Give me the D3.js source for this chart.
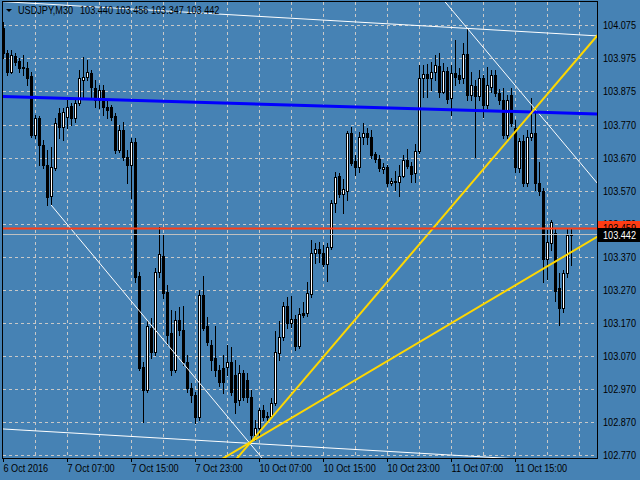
<!DOCTYPE html>
<html><head><meta charset="utf-8">
<script src="https://cdn.jsdelivr.net/npm/d3@7"></script>
<style>
html,body{margin:0;padding:0;background:#4682B4;overflow:hidden}
text{font-family:"Liberation Sans",Arial,sans-serif;font-size:11px}
</style></head><body>
<svg id="c" width="640" height="480"></svg>
<script>
const symbol = "USDJPY,M30";
const open = [104.066,103.990,103.932,103.981,103.966,103.948,103.945,103.920,103.741,103.793,
103.711,103.650,103.556,103.641,103.808,103.766,103.796,103.829,103.793,103.838,
103.908,103.917,103.929,103.884,103.847,103.878,103.826,103.826,103.799,103.696,
103.756,103.675,103.650,103.720,103.313,103.037,102.967,103.156,103.083,103.326,
103.374,103.265,103.140,103.028,103.180,103.150,103.052,102.973,102.952,102.885,
103.256,103.162,103.104,103.065,103.028,103.034,103.037,103.052,103.013,102.937,
103.019,102.998,102.946,102.831,102.852,102.907,102.885,102.888,102.928,103.080,
103.128,103.222,103.171,103.183,103.101,103.201,103.201,103.259,103.383,103.395,
103.383,103.350,103.401,103.535,103.617,103.562,103.571,103.747,103.662,103.644,
103.735,103.747,103.735,103.684,103.668,103.638,103.644,103.596,103.602,103.599,
103.617,103.665,103.647,103.626,103.693,103.914,103.926,103.914,103.932,103.951,
103.872,103.936,103.854,103.929,103.923,103.914,103.987,103.863,103.890,103.860,
103.914,103.832,103.887,103.923,103.869,103.847,103.741,103.863,103.763,103.641,
103.723,103.596,103.735,103.747,103.596,103.571,103.365,103.414,103.444,103.277,
103.216,103.322,103.440];
const high = [104.084,103.999,103.999,103.990,103.975,103.984,103.963,103.932,103.802,103.799,
103.726,103.696,103.705,103.793,103.823,103.823,103.847,103.838,103.847,103.939,
103.978,103.969,103.939,103.908,103.893,103.893,103.847,103.832,103.808,103.772,
103.781,103.696,103.732,103.732,103.326,103.052,103.180,103.186,103.338,103.462,
103.438,103.286,103.210,103.207,103.219,103.222,103.074,102.989,102.961,103.271,
103.313,103.189,103.119,103.162,103.043,103.074,103.104,103.098,103.058,103.043,
103.028,103.019,102.967,102.876,102.913,102.922,102.901,102.943,103.147,103.177,
103.235,103.250,103.253,103.195,103.216,103.235,103.295,103.423,103.414,103.417,
103.407,103.414,103.544,103.629,103.626,103.608,103.753,103.766,103.681,103.750,
103.778,103.763,103.756,103.690,103.681,103.656,103.650,103.611,103.632,103.650,
103.681,103.699,103.659,103.714,103.954,103.954,103.957,103.963,103.984,103.990,
103.960,103.948,103.954,104.030,103.945,104.020,104.066,103.932,103.908,103.939,
103.923,103.948,103.939,103.939,103.881,103.884,103.863,103.884,103.787,103.732,
103.741,103.756,103.854,103.811,103.659,103.580,103.453,103.483,103.459,103.322,
103.332,103.459,103.456];
const low = [103.975,103.923,103.929,103.954,103.932,103.923,103.893,103.735,103.732,103.650,
103.641,103.529,103.529,103.635,103.732,103.726,103.763,103.772,103.781,103.832,
103.857,103.908,103.857,103.826,103.823,103.802,103.793,103.787,103.687,103.690,
103.665,103.596,103.550,103.295,103.028,102.870,102.961,103.065,103.074,103.310,
103.247,103.104,103.013,103.022,103.134,103.043,102.961,102.931,102.867,102.876,
103.150,103.104,103.028,103.010,102.980,102.958,103.013,102.952,102.898,102.922,
102.937,102.931,102.810,102.816,102.831,102.876,102.876,102.882,102.922,103.058,
103.119,103.156,103.159,103.089,103.095,103.189,103.192,103.250,103.353,103.356,
103.344,103.298,103.395,103.508,103.553,103.505,103.544,103.650,103.620,103.629,
103.714,103.714,103.672,103.659,103.632,103.626,103.587,103.590,103.574,103.556,
103.614,103.641,103.599,103.599,103.687,103.857,103.857,103.878,103.908,103.857,
103.869,103.838,103.802,103.893,103.899,103.899,103.847,103.847,103.675,103.847,
103.796,103.823,103.872,103.860,103.835,103.732,103.732,103.769,103.629,103.629,
103.587,103.587,103.726,103.574,103.559,103.295,103.304,103.392,103.238,103.165,
103.204,103.310,103.347];
const close = [103.990,103.932,103.984,103.963,103.945,103.945,103.914,103.741,103.793,103.711,
103.650,103.553,103.644,103.778,103.766,103.811,103.826,103.793,103.838,103.914,
103.917,103.932,103.887,103.847,103.878,103.826,103.817,103.796,103.696,103.756,
103.675,103.650,103.720,103.310,103.034,102.967,103.162,103.083,103.326,103.380,
103.262,103.134,103.028,103.180,103.150,103.052,102.973,102.952,102.885,103.256,
103.156,103.113,103.058,103.028,102.992,102.992,103.052,102.961,102.931,103.019,
102.946,102.946,102.831,102.852,102.907,102.885,102.888,102.928,103.083,103.128,
103.222,103.171,103.183,103.101,103.198,103.195,103.262,103.383,103.395,103.383,
103.350,103.401,103.535,103.614,103.562,103.577,103.747,103.656,103.644,103.735,
103.747,103.735,103.681,103.668,103.641,103.644,103.596,103.602,103.600,103.617,
103.665,103.647,103.623,103.693,103.914,103.926,103.914,103.932,103.954,103.872,
103.936,103.851,103.929,103.917,103.911,103.987,103.863,103.893,103.860,103.914,
103.832,103.893,103.923,103.869,103.847,103.741,103.847,103.778,103.644,103.723,
103.596,103.735,103.747,103.596,103.571,103.365,103.417,103.477,103.268,103.216,
103.322,103.438,103.442];
const timeTickBars = [0,16,32,48,64,80,96,112,128];
const timeTickLabels = ["6 Oct 2016","7 Oct 07:00","7 Oct 15:00","7 Oct 23:00","10 Oct 07:00","10 Oct 15:00","10 Oct 23:00","11 Oct 07:00","11 Oct 15:00"];
const priceTickLabels = ["104.075","103.975","103.875","103.770","103.670","103.570","103.470","103.370","103.270","103.170","103.070","102.970","102.870","102.770"];
const bidPrice = 103.442;
const alertPrice = 103.459;
// drawn objects: [bar, price] pairs
const maLine = [[0,103.858],[148.5,103.805]];
const channelTop = [[8.5,104.140],[148.5,104.042]];
const channelBottom = [[0,102.849],[148.5,102.744]];
const trendFromLow = [[12,103.529],[64.75,102.761]];
const trendFromHigh = [[116,104.066],[148.5,103.596]];
const fanSteep = [[62,102.810],[148.5,104.042]];
const fanFlat = [[62,102.810],[148.5,103.432]];

const svg = d3.select("#c");
const W = 640, H = 480;
const L = 3, R = 597, T = 2, B = 458;
const x = d3.scaleLinear().domain([0,148.5]).range([3,597]);
const y = d3.scaleLinear().domain([102.770,104.075]).range([455,25]);
const SX = 0.83; // narrow glyphs like the terminal font

function txt(px, py, s, fill){
  return svg.append("text").attr("transform",`translate(${px},${py}) scale(${SX},1)`)
    .attr("fill",fill).text(s);
}

svg.append("rect").attr("width",W).attr("height",H).attr("fill","#4682B4");
svg.append("defs").append("clipPath").attr("id","pc")
  .append("rect").attr("x",L).attr("y",T).attr("width",R-L).attr("height",B-T);

// grid
const g = svg.append("g").attr("shape-rendering","crispEdges");
priceTickLabels.forEach(t=>{
  const yy = Math.round(y(+t))+0.5;
  g.append("line").attr("x1",L).attr("x2",R).attr("y1",yy).attr("y2",yy)
   .attr("stroke","#C8C8C8").attr("stroke-dasharray","3,3");
});
for(let b=8;b<=144;b+=8){
  const xx = Math.round(x(b))+0.5;
  g.append("line").attr("x1",xx).attr("x2",xx).attr("y1",T).attr("y2",B)
   .attr("stroke","#C8C8C8").attr("stroke-dasharray","3,3");
}

const pc = svg.append("g").attr("clip-path","url(#pc)");
function extLine(pts, from, to, color, width, ray){
  const [a,b] = pts;
  const slope = (b[1]-a[1])/(b[0]-a[0]);
  const x0 = ray ? a[0] : from;
  pc.append("line")
    .attr("x1",x(x0)).attr("y1",y(a[1]+slope*(x0-a[0])))
    .attr("x2",x(to)).attr("y2",y(a[1]+slope*(to-a[0])))
    .attr("stroke",color).attr("stroke-width",width);
}

// candles
const cg = pc.append("g").attr("shape-rendering","crispEdges");
open.forEach((o,i)=>{
  const c = close[i], X = Math.round(x(i));
  cg.append("line").attr("x1",X+0.5).attr("x2",X+0.5)
    .attr("y1",Math.round(y(high[i]))).attr("y2",Math.round(y(low[i]))+1)
    .attr("stroke","#000");
  const top = Math.round(y(Math.max(o,c))), bot = Math.round(y(Math.min(o,c)));
  const h = Math.max(1,bot-top);
  if(c>o){
    cg.append("rect").attr("x",X-0.5).attr("y",top+0.5).attr("width",2).attr("height",Math.max(1,h))
      .attr("fill","#fff").attr("stroke","#000");
  } else {
    cg.append("rect").attr("x",X-1).attr("y",top).attr("width",3).attr("height",h+1).attr("fill","#000");
  }
});

// objects
extLine(channelTop,-10,200,"#fff",1,false);
extLine(channelBottom,-10,200,"#fff",1,false);
extLine(trendFromLow,-10,200,"#fff",1,true);
extLine(trendFromHigh,-10,200,"#fff",1,false);
extLine(maLine,-10,200,"#0000FF",3,false);
extLine(fanSteep,-10,200,"#FFD700",2,false);
extLine(fanFlat,-10,200,"#FFD700",2,false);
pc.append("line").attr("x1",L).attr("x2",R).attr("y1",Math.round(y(alertPrice))+0.5).attr("y2",Math.round(y(alertPrice))+0.5)
  .attr("stroke","#FF3C14").attr("stroke-width",2);
pc.append("line").attr("x1",L).attr("x2",R).attr("y1",Math.round(y(bidPrice))+0.5).attr("y2",Math.round(y(bidPrice))+0.5)
  .attr("stroke","#C0C0C0").attr("stroke-width",1).attr("shape-rendering","crispEdges");

// frame
const f = svg.append("g").attr("stroke","#000").attr("shape-rendering","crispEdges");
f.append("line").attr("x1",2.5).attr("x2",2.5).attr("y1",1).attr("y2",B+1);
f.append("line").attr("x1",2).attr("x2",R+1).attr("y1",1.5).attr("y2",1.5);
f.append("line").attr("x1",R+0.5).attr("x2",R+0.5).attr("y1",1).attr("y2",B+1);
f.append("line").attr("x1",2).attr("x2",R+1).attr("y1",B+0.5).attr("y2",B+0.5);

// price labels
priceTickLabels.forEach(t=>{ txt(603, y(+t)+4, t, "#000"); });
// alert label and bid label
svg.append("rect").attr("x",598).attr("y",Math.round(y(alertPrice))-7).attr("width",42).attr("height",14).attr("fill","#FF3C14");
txt(603, y(alertPrice)+4, alertPrice.toFixed(3), "#000");
svg.append("rect").attr("x",598).attr("y",Math.round(y(bidPrice))-6).attr("width",42).attr("height",14).attr("fill","#000");
txt(603, y(bidPrice)+5, bidPrice.toFixed(3), "#fff");

// time axis
timeTickBars.forEach((b,k)=>{
  const X = Math.round(x(b))+0.5;
  svg.append("line").attr("x1",X).attr("x2",X).attr("y1",B).attr("y2",B+4).attr("stroke","#000").attr("shape-rendering","crispEdges");
  txt(X, 472, timeTickLabels[k], "#000");
});

// header
const n = open.length-1;
svg.append("path").attr("d","M6,9L12,9L9,12Z").attr("fill","#000");
txt(18, 14, symbol, "#000");
txt(80, 14, [open[n],high[n],low[n],close[n]].map(v=>v.toFixed(3)).join(" "), "#000");
</script></body></html>
